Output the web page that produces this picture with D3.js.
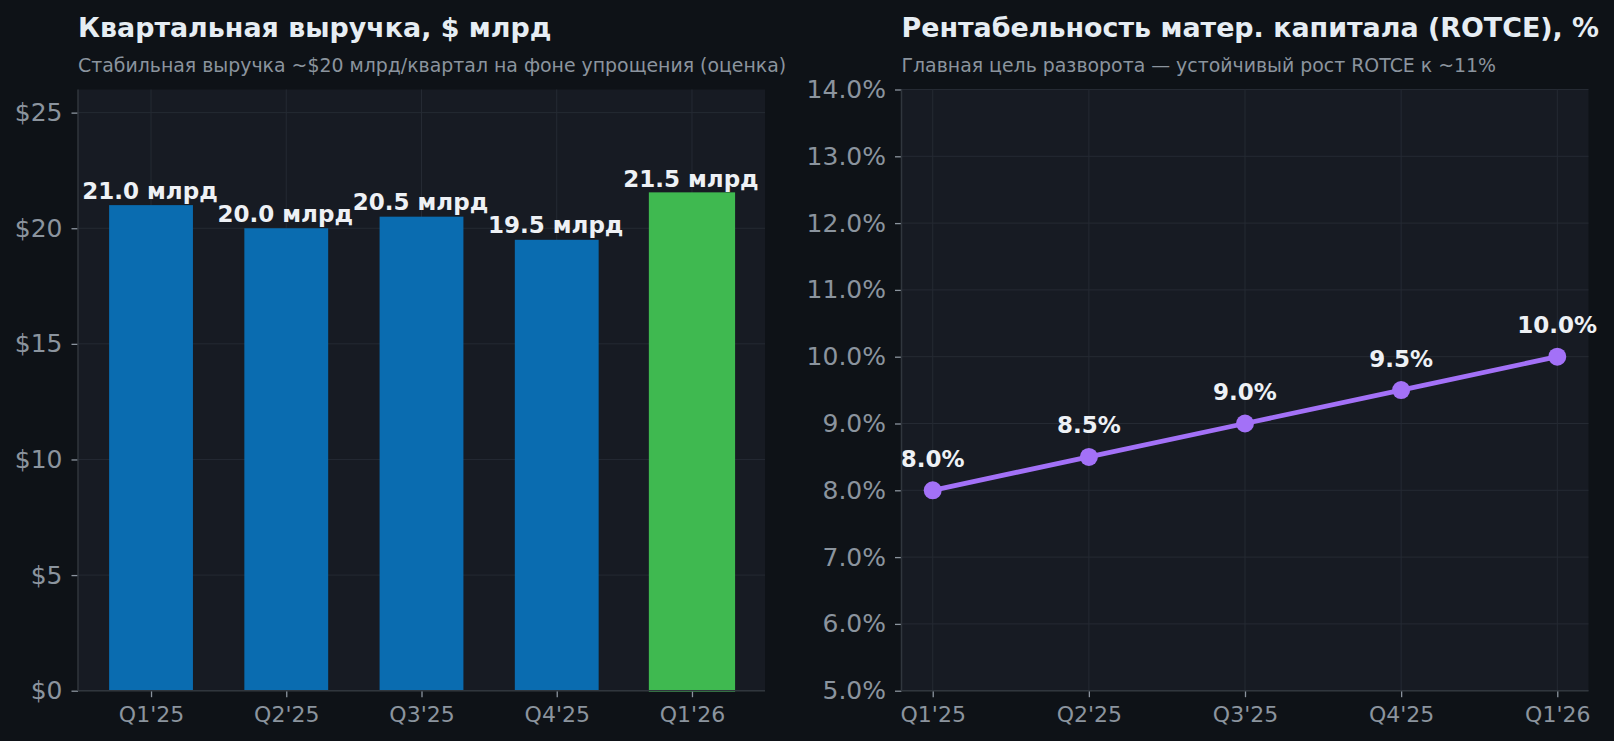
<!DOCTYPE html>
<html><head><meta charset="utf-8">
<script src="https://cdn.jsdelivr.net/npm/d3@7"></script>
<style>
html,body{margin:0;padding:0;background:#0e1217;}
svg{display:block;font-family:"DejaVu Sans",sans-serif;}
</style></head>
<body>
<svg id="c" width="1614" height="741"></svg>
<script>
const quarters = ["Q1'25","Q2'25","Q3'25","Q4'25","Q1'26"];
const revenue = [21.0, 20.0, 20.5, 19.5, 21.5];
const revenueLabels = ["21.0 млрд","20.0 млрд","20.5 млрд","19.5 млрд","21.5 млрд"];
const revenueTicks = [0,5,10,15,20,25];
const rotce = [8.0, 8.5, 9.0, 9.5, 10.0];
const rotceTicks = [5,6,7,8,9,10,11,12,13,14];
const titles = ["Квартальная выручка, $ млрд","Рентабельность матер. капитала (ROTCE), %"];
const subtitles = ["Стабильная выручка ~$20 млрд/квартал на фоне упрощения (оценка)","Главная цель разворота — устойчивый рост ROTCE к ~11%"];

const C = {bg:"#0e1217", plot:"#171b23", grid:"#252a33", spine:"#30363d", tick:"#8b949e",
  title:"#e6edf3", sub:"#8b949e", blue:"#0a6cb0", green:"#3fb950", purple:"#a371f7", lbl:"#eef1f5"};

const svg = d3.select("#c");
svg.append("rect").attr("width",1614).attr("height",741).attr("fill",C.bg);

const plotTop = 89.5, plotBottom = 690.7;

function panel(x0, x1, i){
  const g = svg.append("g");
  g.append("rect").attr("x",x0).attr("y",plotTop).attr("width",x1-x0).attr("height",plotBottom-plotTop).attr("fill",C.plot);
  g.append("text").attr("x",x0).attr("y",37).attr("fill",C.title).attr("font-size",26.9).attr("font-weight","bold").text(titles[i]);
  g.append("text").attr("x",x0).attr("y",71.5).attr("fill",C.sub).attr("font-size",18.9).text(subtitles[i]);
  return g;
}

function finishAxes(g, ya, xa, x0, x1){
  ya.selectAll("text").attr("font-size",25).attr("fill",C.tick);
  xa.selectAll("text").attr("font-size",22).attr("fill",C.tick).attr("dy","0.72em");
  [ya,xa].forEach(a=>{a.attr("font-family",null); a.selectAll(".tick line").attr("stroke",C.tick).attr("stroke-width",1.3); a.select(".domain").remove();});
  g.append("line").attr("x1",x0).attr("x2",x0).attr("y1",plotTop).attr("y2",plotBottom).attr("stroke",C.spine).attr("stroke-width",1.5);
  g.append("line").attr("x1",x0).attr("x2",x1).attr("y1",plotBottom).attr("y2",plotBottom).attr("stroke",C.spine).attr("stroke-width",1.5);
}

// LEFT
{
  const x0=78, x1=765;
  const g = panel(x0,x1,0);
  const x = d3.scaleLinear().domain([-0.54,4.54]).range([x0,x1]);
  const y = d3.scaleLinear().domain([0,26]).range([plotBottom,plotTop]);
  g.selectAll(".gy").data(revenueTicks).join("line").attr("x1",x0).attr("x2",x1)
    .attr("y1",d=>y(d)).attr("y2",d=>y(d)).attr("stroke",C.grid).attr("stroke-width",1);
  g.selectAll(".gx").data(quarters).join("line").attr("x1",(d,i)=>x(i)).attr("x2",(d,i)=>x(i))
    .attr("y1",plotTop).attr("y2",plotBottom).attr("stroke",C.grid).attr("stroke-width",1);
  const bw = x(0.62)-x(0);
  g.selectAll(".bar").data(revenue).join("rect")
    .attr("x",(d,i)=>x(i)-bw/2).attr("width",bw)
    .attr("y",d=>y(d)).attr("height",d=>y(0)-y(d))
    .attr("fill",(d,i)=>i===4?C.green:C.blue)
    .attr("stroke",(d,i)=>i===4?C.green:"none").attr("stroke-width",2.4);
  g.selectAll(".vl").data(revenue).join("text")
    .attr("x",(d,i)=>x(i)-1).attr("y",d=>y(d)-6.5).attr("text-anchor","middle")
    .attr("fill",C.lbl).attr("font-size",23).attr("font-weight","bold").text((d,i)=>revenueLabels[i]);
  const ya = g.append("g").attr("transform",`translate(${x0},0)`)
    .call(d3.axisLeft(y).tickValues(revenueTicks).tickFormat(d=>"$"+d).tickSize(6.5).tickPadding(9));
  const xa = g.append("g").attr("transform",`translate(0,${plotBottom})`)
    .call(d3.axisBottom(x).tickValues(d3.range(5)).tickFormat(i=>quarters[i]).tickSize(6.5).tickPadding(9));
  finishAxes(g, ya, xa, x0, x1);
}

// RIGHT
{
  const x0=901.5, x1=1588.5;
  const g = panel(x0,x1,1);
  const x = d3.scaleLinear().domain([-0.2,4.2]).range([x0,x1]);
  const y = d3.scaleLinear().domain([5,14]).range([plotBottom,plotTop]);
  g.selectAll(".gy").data(rotceTicks).join("line").attr("x1",x0).attr("x2",x1)
    .attr("y1",d=>y(d)).attr("y2",d=>y(d)).attr("stroke",C.grid).attr("stroke-width",1);
  g.selectAll(".gx").data(quarters).join("line").attr("x1",(d,i)=>x(i)).attr("x2",(d,i)=>x(i))
    .attr("y1",plotTop).attr("y2",plotBottom).attr("stroke",C.grid).attr("stroke-width",1);
  const line = d3.line().x((d,i)=>x(i)).y(d=>y(d));
  g.append("path").datum(rotce).attr("d",line).attr("fill","none").attr("stroke",C.purple).attr("stroke-width",4.8);
  g.selectAll(".pt").data(rotce).join("circle").attr("cx",(d,i)=>x(i)).attr("cy",d=>y(d)).attr("r",9).attr("fill",C.purple);
  g.selectAll(".vl").data(rotce).join("text")
    .attr("x",(d,i)=>x(i)).attr("y",d=>y(d)-23.5).attr("text-anchor","middle")
    .attr("fill",C.lbl).attr("font-size",23).attr("font-weight","bold").text(d=>d.toFixed(1)+"%");
  const ya = g.append("g").attr("transform",`translate(${x0},0)`)
    .call(d3.axisLeft(y).tickValues(rotceTicks).tickFormat(d=>d.toFixed(1)+"%").tickSize(6.5).tickPadding(9));
  const xa = g.append("g").attr("transform",`translate(0,${plotBottom})`)
    .call(d3.axisBottom(x).tickValues(d3.range(5)).tickFormat(i=>quarters[i]).tickSize(6.5).tickPadding(9));
  finishAxes(g, ya, xa, x0, x1);
}
</script>
</body></html>
